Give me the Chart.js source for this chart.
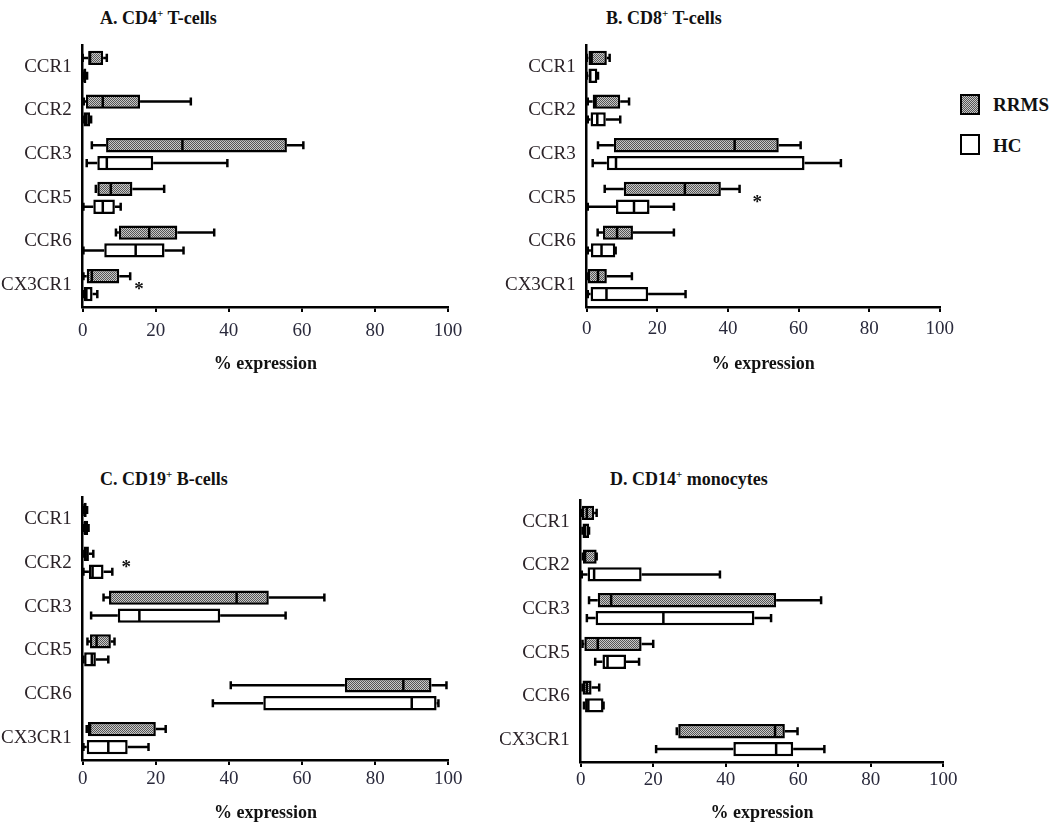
<!DOCTYPE html>
<html>
<head>
<meta charset="utf-8">
<script src="https://cdn.jsdelivr.net/npm/chart.js@4.4.1/dist/chart.umd.min.js"></script>
<style>
  body { margin: 0; background: #fff; width: 1052px; height: 826px; position: relative; overflow: hidden; }
  canvas { position: absolute; }
  .ttl { position: absolute; font: bold 18px "Liberation Serif", serif; line-height: 20px; color: #111; white-space: nowrap; }
  .ttl sup { font-size: 11px; line-height: 0; }
  .lg { position: absolute; font: bold 19px "Liberation Serif", serif; line-height: 20px; color: #111; }
  .sw { position: absolute; width: 16px; height: 17px; border: 2.5px solid #000; }
  .sw.rr { background: repeating-conic-gradient(#555 0 25%, #c8c8c8 0 50%) 0 0 / 2px 2px; }
</style>
</head>
<body>

<div class="ttl" style="left:100px; top:8px">A. CD4<sup>+</sup> T-cells</div>
<div class="ttl" style="left:606px; top:8px">B. CD8<sup>+</sup> T-cells</div>
<div class="ttl" style="left:100px; top:469px">C. CD19<sup>+</sup> B-cells</div>
<div class="ttl" style="left:610px; top:469px">D. CD14<sup>+</sup> monocytes</div>

<div class="sw rr" style="left:960px; top:94px"></div>
<div class="lg" style="left:993px; top:95px">RRMS</div>
<div class="sw" style="left:960px; top:134px"></div>
<div class="lg" style="left:993px; top:136px">HC</div>

<canvas id="cA" width="500" height="385" style="left:0; top:0"></canvas>
<canvas id="cB" width="460" height="385" style="left:500px; top:0"></canvas>
<canvas id="cC" width="500" height="366" style="left:0; top:460px"></canvas>
<canvas id="cD" width="460" height="366" style="left:500px; top:460px"></canvas>

<script>
// ─── DATA ────────────────────────────────────────────────────────
// each row: [min, Q1, median, Q3, max] in % expression
const receptors = ["CCR1", "CCR2", "CCR3", "CCR5", "CCR6", "CX3CR1"];
const xTicks    = [0, 20, 40, 60, 80, 100];

const cd4Rrms = [
  [0, 1.5, 2, 5.6, 6.6],
  [0.3, 0.9, 5.5, 15.7, 29.6],
  [2.5, 6.4, 27.3, 55.9, 60.4],
  [3.6, 4.0, 7.7, 13.6, 22.3],
  [9.1, 9.9, 18.2, 25.9, 36],
  [0.2, 1.1, 2.5, 10, 13]
];
const cd4Hc = [
  [0, 0.2, 0.5, 1.0, 1.2],
  [0, 0.2, 1, 2, 2.3],
  [1.1, 4.0, 6.6, 19.3, 39.6],
  [0.2, 2.9, 5.5, 8.8, 10.4],
  [0.2, 5.9, 14.5, 22.4, 27.6],
  [0.2, 0.3, 1.0, 2.7, 4.0]
];

const cd8Rrms = [
  [0, 0.5, 1.4, 5.7, 6.5],
  [0.3, 1.7, 2.5, 9.5, 12],
  [3.2, 7.7, 41.9, 54.4, 60.6],
  [5.1, 10.5, 27.8, 38, 43.3],
  [3.1, 4.6, 8.6, 13.1, 24.7],
  [0, 0.3, 3.2, 5.7, 12.8]
];
const cd8Hc = [
  [0, 0.5, 1, 3, 3.2],
  [0.3, 1.1, 3, 5.4, 9.5],
  [1.7, 5.7, 8.3, 61.7, 72],
  [0.3, 8.3, 13.4, 17.8, 24.7],
  [0.3, 1.2, 4.2, 8.1, 8.2],
  [0.3, 1.1, 5.6, 17.4, 28]
];

const cd19Rrms = [
  [0, 0, 0.5, 1.1, 1.2],
  [0, 0, 0.8, 1.7, 2.9],
  [5.7, 7.2, 42.1, 50.9, 66.1],
  [1.3, 2.0, 3.8, 7.7, 8.7],
  [40.5, 71.7, 87.7, 95.4, 99.5],
  [1.1, 1.4, 2, 20, 22.7]
];
const cd19Hc = [
  [0, 0, 0.6, 1.5, 1.6],
  [0.2, 1.7, 2.7, 5.7, 8.1],
  [2.3, 9.6, 15.5, 37.6, 55.5],
  [0.2, 0.4, 2.5, 3.6, 7.0],
  [35.6, 49.4, 90, 96.8, 97.3],
  [0.2, 1.1, 7.0, 12.3, 18]
];

const cd14Rrms = [
  [0.3, 0.3, 1.7, 3.7, 4.4],
  [0.6, 0.6, 1.2, 4.4, 4.4],
  [2.3, 4.7, 8.4, 53.9, 66.3],
  [0.5, 1.0, 4.7, 16.8, 20],
  [0.5, 0.5, 1.7, 3.0, 5.1],
  [26.5, 26.9, 53.6, 56.3, 59.8]
];
const cd14Hc = [
  [0.5, 0.5, 1.2, 2.3, 2.3],
  [0.3, 1.9, 3.7, 16.8, 38.4],
  [1.7, 4.1, 22.8, 47.9, 52.5],
  [4.0, 6.0, 7.4, 12.5, 16.1],
  [0.9, 1.2, 2.1, 6.3, 6.3],
  [20.8, 42.1, 53.9, 58.6, 67.2]
];

// significance marks: [x value, receptor]
const cd4Stars  = [[15.4, "CX3CR1"]];
const cd8Stars  = [[48.3, "CCR5"]];
const cd19Stars = [[11.9, "CCR2"]];
const cd14Stars = [];

// ─── SETUP ───────────────────────────────────────────────────────
Chart.defaults.font.family = '"Liberation Serif", "Times New Roman", serif';
Chart.defaults.color = "#222230";

// grey checker fill used for the RRMS boxes
function checker(ctx) {
  const c = document.createElement("canvas");
  c.width = 2; c.height = 2;
  const g = c.getContext("2d");
  g.fillStyle = "#c8c8c8"; g.fillRect(0, 0, 2, 2);
  g.fillStyle = "#555"; g.fillRect(0, 0, 1, 1); g.fillRect(1, 1, 1, 1);
  return ctx.createPattern(c, "repeat");
}

// whiskers, caps, medians and stars on top of the floating-bar boxes
const boxPlot = {
  id: "boxPlot",
  afterDatasetsDraw(chart, args, opts) {
    const ctx = chart.ctx;
    const xs = chart.scales.x, ys = chart.scales.y;
    ctx.save();
    ctx.strokeStyle = "#000";
    ctx.lineWidth = 2.5;
    chart.data.datasets.forEach((ds, di) => {
      chart.getDatasetMeta(di).data.forEach((bar, i) => {
        const [lo, q1, med, q3, hi] = ds.stats[i].map(v => xs.getPixelForValue(v));
        const y = bar.y, h = bar.height, cap = h * 0.28;
        ctx.beginPath();
        ctx.moveTo(lo, y); ctx.lineTo(q1, y);
        ctx.moveTo(q3, y); ctx.lineTo(hi, y);
        ctx.moveTo(lo, y - cap); ctx.lineTo(lo, y + cap);
        ctx.moveTo(hi, y - cap); ctx.lineTo(hi, y + cap);
        ctx.moveTo(med, y - h / 2 + 1); ctx.lineTo(med, y + h / 2 - 1);
        ctx.stroke();
      });
    });
    ctx.fillStyle = "#111";
    ctx.font = 'bold 19px "Liberation Serif", serif';
    ctx.textAlign = "center";
    ctx.textBaseline = "middle";
    (opts.stars || []).forEach(([v, cat]) => {
      ctx.fillText("*", xs.getPixelForValue(v), ys.getPixelForValue(receptors.indexOf(cat)) + 5);
    });
    ctx.restore();
  }
};

// ─── PANEL BUILDER ───────────────────────────────────────────────
// g = geometry of the plot area inside the canvas
function makePanel(id, rrms, hc, stars, g) {
  const canvas = document.getElementById(id);
  const ctx = canvas.getContext("2d");
  const box = (rows, fill, label) => ({
    label,
    data:  rows.map(r => [r[1], r[3]]),
    stats: rows,
    backgroundColor: fill,
    borderColor: "#000",
    borderWidth: 2.5,
    borderSkipped: false,
    categoryPercentage: 0.82,
    barPercentage: 0.8
  });

  return new Chart(ctx, {
    type: "bar",
    data: {
      labels: receptors,
      datasets: [box(rrms, checker(ctx), "RRMS"), box(hc, "#fff", "HC")]
    },
    options: {
      indexAxis: "y",
      responsive: false,
      animation: false,
      devicePixelRatio: 1,
      layout: {
        padding: {
          left: 0,
          top: g.top,
          right: canvas.width - g.right,
          bottom: canvas.height - g.bottom - g.xH
        }
      },
      plugins: {
        legend:  { display: false },
        tooltip: { enabled: false },
        boxPlot: { stars }
      },
      scales: {
        x: {
          min: 0, max: 100,
          afterBuildTicks: s => { s.ticks = xTicks.map(v => ({ value: v })); },
          afterFit: s => { s.height = g.xH; },
          grid:   { display: true, drawOnChartArea: false, drawTicks: true, tickLength: 5, color: "#000", lineWidth: 2 },
          border: { display: true, color: "#000", width: 2.5 },
          ticks:  { font: { size: 19 }, padding: g.tickPad, color: "#2a2a3c" },
          title:  { display: true, text: "% expression", font: { size: 18, weight: "bold" }, color: "#111", padding: 0 }
        },
        y: {
          afterFit: s => { s.width = g.left; },
          grid:   { display: false },
          border: { display: true, color: "#000", width: 2.5 },
          ticks:  { font: { size: 19 }, padding: 3, color: "#2b2328" }
        }
      }
    },
    plugins: [boxPlot]
  });
}

makePanel("cA", cd4Rrms,  cd4Hc,  cd4Stars,  { left: 82.7, top: 45, right: 448,   bottom: 307, xH: 68, tickPad: 8 });
makePanel("cB", cd8Rrms,  cd8Hc,  cd8Stars,  { left: 86.7, top: 45, right: 446.7, bottom: 307, xH: 68, tickPad: 6 });
makePanel("cC", cd19Rrms, cd19Hc, cd19Stars, { left: 82.7, top: 37, right: 448.3, bottom: 300, xH: 64, tickPad: 3 });
makePanel("cD", cd14Rrms, cd14Hc, cd14Stars, { left: 80.7, top: 40, right: 443.3, bottom: 302, xH: 62, tickPad: 2 });
</script>
</body>
</html>
